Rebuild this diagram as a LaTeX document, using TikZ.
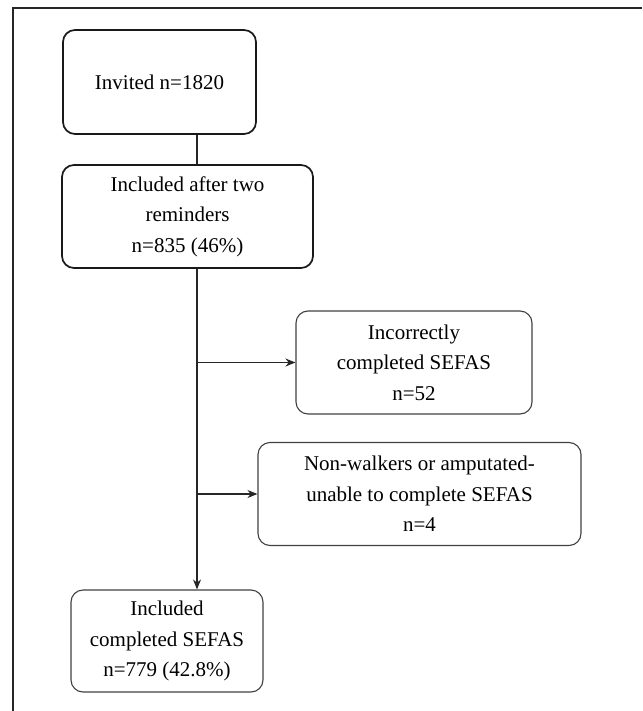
\documentclass[tikz,border=0pt]{standalone}
\usepackage{fontspec}
\setmainfont{Liberation Serif}
\usetikzlibrary{arrows.meta}

\begin{document}
\begin{tikzpicture}[x=1pt,y=-1pt,
    flowbox/.style={draw=black!75, line width=1.1pt, rounded corners=12pt, align=center,
        inner sep=0pt, font=\fontsize{21}{30.5}\selectfont},
    mainbox/.style={flowbox, draw=black!90, line width=1.7pt},
    flowline/.style={draw=black!85, line width=1.1pt},
    flowarrow/.style={flowline, -{Stealth[length=10pt,width=8pt]}}]
    \useasboundingbox (0,0) rectangle (642,711);

    % Page frame
    \draw[black!85, line width=1.6pt] (13,711) -- (13,8) -- (642,8);

    % Boxes
    \node[mainbox, minimum width=193pt, minimum height=104pt] (invited) at (159.5,82) {Invited n=1820};
    \node[mainbox, minimum width=251pt, minimum height=103pt] (reminders) at (187.5,216.5)
        {Included after two\\reminders\\n=835 (46\%)};
    \node[flowbox, minimum width=236pt, minimum height=103pt] (incorrect) at (414,362.5)
        {Incorrectly\\completed SEFAS\\n=52};
    \node[flowbox, minimum width=323pt, minimum height=103pt] (nonwalk) at (419.5,494)
        {Non-walkers or amputated-\\unable to complete SEFAS\\n=4};
    \node[flowbox, minimum width=192pt, minimum height=102pt] (completed) at (167,641)
        {Included\\completed SEFAS\\n=779 (42.8\%)};

    % Connectors
    \coordinate (spine) at (197,0);
    \draw[flowline] (invited.south -| spine) -- (reminders.north -| spine);
    \draw[flowarrow] (reminders.south -| spine) -- (completed.north -| spine);
    \draw[flowarrow] (incorrect.west -| spine) -- (incorrect.west);
    \draw[flowarrow] (nonwalk.west -| spine) -- (nonwalk.west);
\end{tikzpicture}
\end{document}
